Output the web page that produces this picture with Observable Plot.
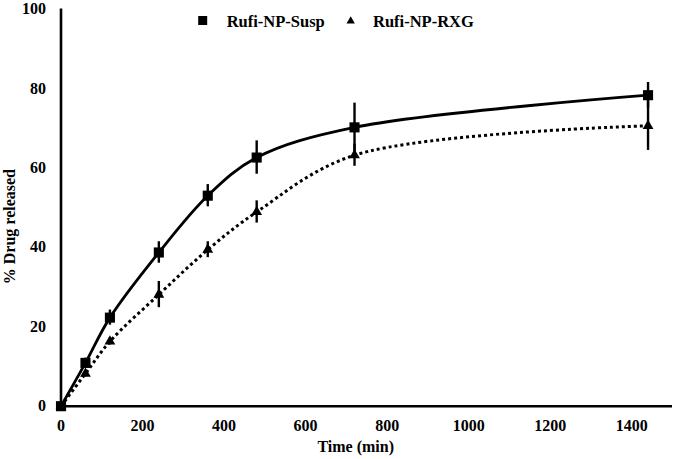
<!DOCTYPE html>
<html><head><meta charset="utf-8">
<script src="https://cdn.jsdelivr.net/npm/d3@7"></script>
<script src="https://cdn.jsdelivr.net/npm/@observablehq/plot@0.6"></script>
<style>
body{margin:0;background:#fff;}
#wrap{position:relative;width:674px;height:459px;}
#legend{position:absolute;left:0;top:0;pointer-events:none;}
</style></head><body><div id="wrap"></div>
<script>
const time = [0, 60, 120, 240, 360, 480, 720, 1440];
const susp = [0, 10.9, 22.3, 38.7, 53.0, 62.6, 70.2, 78.3];
const suspErr = [0, 1.2, 1.9, 2.7, 2.8, 4.2, 6.1, 3.2];
const rxg = [0, 8.2, 16.3, 28.1, 39.4, 48.9, 63.2, 70.6];
const rxgErr = [0, 0.8, 0.9, 3.3, 2.0, 2.8, 2.8, 6.2];
const seriesNames = ["Rufi-NP-Susp", "Rufi-NP-RXG"];
const xTicks = [0, 200, 400, 600, 800, 1000, 1200, 1400];
const yTicks = [0, 20, 40, 60, 80, 100];
const xLabel = "Time (min)";
const yLabel = "% Drug released";

const suspRows = time.map((t, i) => ({t, v: susp[i], e: suspErr[i]}));
const rxgRows = time.map((t, i) => ({t, v: rxg[i], e: rxgErr[i]}));
const allRows = suspRows.concat(rxgRows).filter(d => d.e > 0);

const font = '"Liberation Serif","Times New Roman",serif';
const chart = Plot.plot({
  width: 674,
  height: 459,
  marginLeft: 60.5,
  marginRight: 2,
  marginTop: 8.5,
  marginBottom: 53.3,
  style: {fontFamily: font, fontSize: "16px", fontWeight: "bold", color: "#000", background: "#fff"},
  x: {domain: [0, 1500]},
  y: {domain: [0, 100]},
  marks: [
    Plot.axisX({ticks: xTicks, tickSize: 0, tickPadding: 13, label: null, fontSize: 16, fontWeight: "bold", tickFormat: d => String(d)}),
    Plot.axisY({ticks: yTicks, tickSize: 0, tickPadding: 15, label: null, fontSize: 16, fontWeight: "bold", tickFormat: d => String(d)}),
    Plot.text([xLabel], {frameAnchor: "bottom", textAnchor: "middle", dx: -11, dy: 46.2, text: d => d, fontSize: 16, fontWeight: "bold"}),
    Plot.text([yLabel], {frameAnchor: "left", textAnchor: "middle", rotate: -90, dx: -51.5, dy: 19, text: d => d, fontSize: 16, fontWeight: "bold"}),
    Plot.ruleY([0], {stroke: "#000", strokeWidth: 2.6}),
    Plot.ruleX([0], {y1: 0, y2: 100, stroke: "#000", strokeWidth: 2.6}),
    Plot.ruleX(allRows, {x: "t", y1: d => d.v - d.e, y2: d => d.v + d.e, stroke: "#000", strokeWidth: 2.4}),
    Plot.line(rxgRows, {x: "t", y: "v", curve: "catmull-rom", stroke: "#000", strokeWidth: 3, strokeDasharray: "3,3", strokeLinecap: "butt"}),
    Plot.line(suspRows, {x: "t", y: "v", curve: "catmull-rom", stroke: "#000", strokeWidth: 2.8}),
    Plot.dot(rxgRows, {x: "t", y: "v", symbol: "triangle", r: 4, fill: "#000", stroke: "none"}),
    Plot.dot(suspRows, {x: "t", y: "v", symbol: "square", r: 5.7, fill: "#000", stroke: "none"})
  ]
});
const wrap = document.getElementById("wrap");
wrap.appendChild(chart);

const leg = d3.select(wrap).append("svg").attr("id", "legend").attr("width", 674).attr("height", 40);
const items = [
  {name: seriesNames[0], sym: d3.symbolSquare, size: 81, mx: 202.7, tx: 226.7},
  {name: seriesNames[1], sym: d3.symbolTriangle, size: 30, mx: 350.7, tx: 373}
];
items.forEach(it => {
  leg.append("path").attr("d", d3.symbol(it.sym, it.size)()).attr("transform", `translate(${it.mx},${it.sym === d3.symbolTriangle ? 21 : 20.5})`).attr("fill", "#000");
  leg.append("text").attr("x", it.tx).attr("y", 26.5).attr("font-family", font).attr("font-weight", "bold").attr("font-size", 16.5).attr("fill", "#000").text(it.name);
});
</script></body></html>
